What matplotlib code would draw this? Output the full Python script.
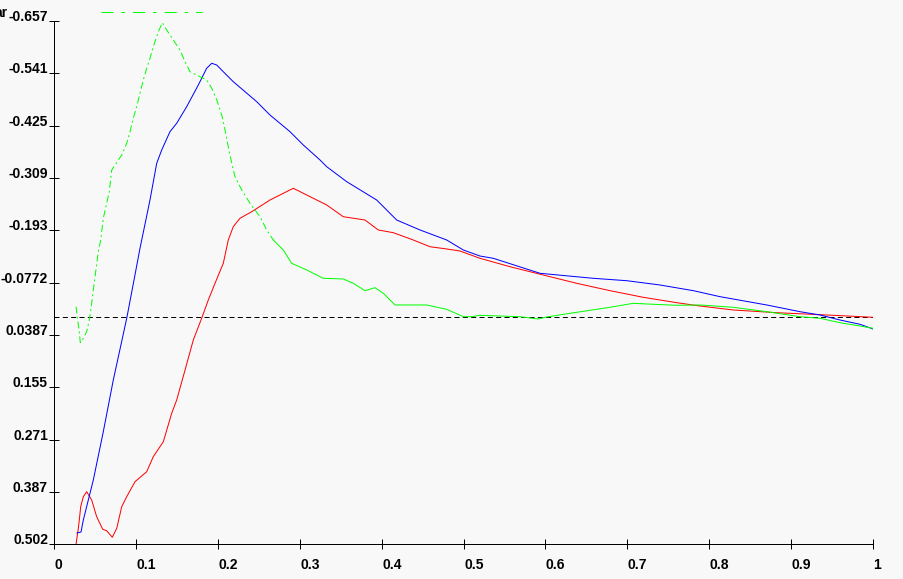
import matplotlib
matplotlib.use("Agg")
import matplotlib.pyplot as plt
import matplotlib.transforms as mtransforms
import numpy as np

plt.rcParams['lines.scale_dashes'] = False

# ---------------- data ----------------
x_ticks = [0, 0.1, 0.2, 0.3, 0.4, 0.5, 0.6, 0.7, 0.8, 0.9, 1]
x_tick_labels = ["0", "0.1", "0.2", "0.3", "0.4", "0.5", "0.6", "0.7", "0.8", "0.9", "1"]
y_ticks = [-0.657, -0.541, -0.425, -0.309, -0.193, -0.0772, 0.0387, 0.155, 0.271, 0.387, 0.502]
y_tick_labels = ["-0.657", "-0.541", "-0.425", "-0.309", "-0.193", "-0.0772", "0.0387",
                 "0.155", "0.271", "0.387", "0.502"]

blue_x = [0.0281, 0.033, 0.0358, 0.048, 0.0602, 0.0724, 0.0888, 0.0977, 0.105, 0.1172,
          0.1254, 0.1315, 0.1416, 0.1498, 0.162, 0.1762, 0.1864, 0.1926, 0.1987, 0.2067,
          0.2189, 0.2475, 0.2637, 0.2882, 0.3044, 0.3248, 0.333, 0.3574, 0.394, 0.4184,
          0.4469, 0.4795, 0.4998, 0.5201, 0.5364, 0.5934, 0.6585, 0.6993, 0.7399, 0.7806,
          0.8132, 0.8702, 0.9109, 0.9353, 0.9597, 0.9841, 1.0]
blue_y = [0.4776, 0.4754, 0.4488, 0.3602, 0.2531, 0.1385, 0.0018, -0.083, -0.1533, -0.2603,
          -0.3417, -0.3711, -0.4117, -0.4303, -0.4671, -0.5152, -0.5522, -0.5633, -0.5595, -0.5446,
          -0.5225, -0.4782, -0.4487, -0.4117, -0.3822, -0.349, -0.3341, -0.3009, -0.2603, -0.216,
          -0.1939, -0.1717, -0.1495, -0.1362, -0.1311, -0.0979, -0.0868, -0.0815, -0.072, -0.0594,
          -0.0461, -0.0277, -0.0128, -0.0055, 0.0056, 0.0151, 0.0255]

red_x = [0.0269, 0.0297, 0.0309, 0.0326, 0.0358, 0.0399, 0.046, 0.0521, 0.0595, 0.0643,
         0.0712, 0.0766, 0.0827, 0.0888, 0.0989, 0.1132, 0.1212, 0.1335, 0.1437, 0.1498,
         0.16, 0.1701, 0.1803, 0.1884, 0.1966, 0.2067, 0.2128, 0.2189, 0.2271, 0.2414,
         0.2637, 0.2759, 0.2922, 0.3086, 0.3166, 0.333, 0.3532, 0.3797, 0.396, 0.4143,
         0.4387, 0.4591, 0.4795, 0.4957, 0.5201, 0.5568, 0.5974, 0.6382, 0.6789, 0.7195,
         0.7603, 0.7888, 0.8294, 0.8824, 0.9515, 1.0]
red_y = [0.5026, 0.4672, 0.4488, 0.4193, 0.3972, 0.3861, 0.4045, 0.4415, 0.4694, 0.4725,
         0.4871, 0.4672, 0.4193, 0.3972, 0.3639, 0.3418, 0.3085, 0.2753, 0.2123, 0.1829,
         0.1164, 0.0499, 0.0018, -0.0387, -0.0757, -0.12, -0.1717, -0.2012, -0.2198, -0.2344,
         -0.2603, -0.2714, -0.2863, -0.2714, -0.2641, -0.2493, -0.2233, -0.216, -0.1939, -0.1879,
         -0.1717, -0.1568, -0.1518, -0.1473, -0.1311, -0.1125, -0.0941, -0.0757, -0.0594, -0.0447,
         -0.0328, -0.0254, -0.0166, -0.0106, -0.0048, -0.0004]

green_x = [0.0269, 0.0277, 0.0289, 0.0309, 0.0321, 0.0358, 0.0399, 0.0431, 0.046, 0.048,
           0.0501, 0.0541, 0.057, 0.0602, 0.0643, 0.0675, 0.0705, 0.0745, 0.0827, 0.0888,
           0.0928, 0.0968, 0.101, 0.105, 0.109, 0.1132, 0.1172, 0.1212, 0.1274, 0.1322,
           0.1376, 0.1457, 0.1538, 0.16, 0.1661, 0.1742, 0.1864, 0.1926, 0.1987, 0.2048,
           0.2088, 0.2128, 0.217, 0.221, 0.2292, 0.2393, 0.2515, 0.2597, 0.2678, 0.28,
           0.2902, 0.3086, 0.3288, 0.3532, 0.3654, 0.3797, 0.3919, 0.4021, 0.4164, 0.4551,
           0.4795, 0.4998, 0.51, 0.5201, 0.569, 0.5913, 0.6016, 0.63, 0.6789, 0.7073,
           0.7237, 0.7603, 0.7888, 0.8294, 0.8702, 0.9109, 0.9353, 0.9597, 0.9841, 1.0]
green_y = [-0.0239, -0.0128, 0.0056, 0.0315, 0.0559, 0.0461, 0.0315, 0.0056, -0.0314, -0.0609,
           -0.0904, -0.1458, -0.1717, -0.2198, -0.253, -0.2787, -0.3268, -0.3379, -0.36, -0.386,
           -0.4117, -0.4414, -0.4671, -0.4968, -0.5263, -0.5522, -0.5743, -0.6, -0.6333, -0.6532,
           -0.6371, -0.6149, -0.5927, -0.5668, -0.5446, -0.5373, -0.5263, -0.5079, -0.482, -0.4487,
           -0.4155, -0.3784, -0.3417, -0.312, -0.2825, -0.253, -0.2233, -0.1939, -0.1717, -0.1495,
           -0.12, -0.1052, -0.0868, -0.0853, -0.0757, -0.0594, -0.066, -0.0536, -0.0277, -0.0277,
           -0.0181, -0.0017, -0.0017, -0.0048, -0.0017, 0.0034, -0.0011, -0.0092, -0.0226, -0.0314,
           -0.0299, -0.027, -0.0277, -0.0226, -0.0128, -0.0017, 0.0018, 0.0116, 0.0189, 0.024]

top_marker_x = [0.0574, 0.1804]
top_marker_y = [-0.676, -0.676]
zero_level = 0.0

# ---------------- figure ----------------
W, H, DPI = 904, 579, 100
bg = '#f8f8f8'
fig = plt.figure(figsize=(W / DPI, H / DPI), dpi=DPI, facecolor=bg)
left_px, right_px, top_px, bottom_px = 54, 873, 21, 544
ax = fig.add_axes([left_px / W, 1 - bottom_px / H, (right_px - left_px) / W,
                   (bottom_px - top_px) / H])
ax.set_facecolor(bg)
ax.set_xlim(0, 1)
ax.set_ylim(0.502, -0.657)

lw = 0.72
for s in ['top', 'right']:
    ax.spines[s].set_visible(False)
for s in ['left', 'bottom']:
    ax.spines[s].set_color('black')
    ax.spines[s].set_linewidth(lw)

ax.set_xticks(x_ticks)
ax.set_yticks(y_ticks)
ax.tick_params(direction='inout', length=6.5, width=lw, color='black',
               labelbottom=False, labelleft=False)

font = dict(family=['Liberation Sans', 'DejaVu Sans'], fontweight='bold', fontsize=10)

for xv, lab in zip(x_ticks, x_tick_labels):
    tr = mtransforms.offset_copy(ax.get_xaxis_transform(), fig=fig, x=0.4, y=-25 * 0.72, units='points')
    ax.text(xv, 0, lab, transform=tr, ha='left', va='baseline', **font)
for yv, lab in zip(y_ticks, y_tick_labels):
    tr = mtransforms.offset_copy(ax.get_yaxis_transform(), fig=fig, x=-6 * 0.72, y=0, units='points')
    ax.text(0, yv, lab, transform=tr, ha='right', va='baseline', **font)

fig.text(8 / W, 1 - 17 / H, 'ar', ha='right', va='baseline', **font)

# zero reference line
ax.axhline(zero_level, color='black', lw=lw, linestyle=(0, (3.6, 2.4)))

ax.plot(red_x, red_y, color='#ff0000', lw=lw)
ax.plot(blue_x, blue_y, color='#0000ff', lw=lw)

# green: dash-dot on the steep rising/falling part, solid afterwards
gx = np.array(green_x)
gy = np.array(green_y)
split = int(np.searchsorted(gx, 0.26))
ax.plot(gx[:split + 1], gy[:split + 1], color='#00ff00', lw=lw,
        linestyle=(0, (5.0, 2.2, 1.4, 2.2)))
ax.plot(gx[split:], gy[split:], color='#00ff00', lw=lw)

ax.plot(top_marker_x, top_marker_y, color='#00ff00', lw=lw,
        linestyle=(0, (8.6, 5.8, 2.5, 5.8)), clip_on=False)

fig.savefig('out.png', dpi=DPI, facecolor=bg)
